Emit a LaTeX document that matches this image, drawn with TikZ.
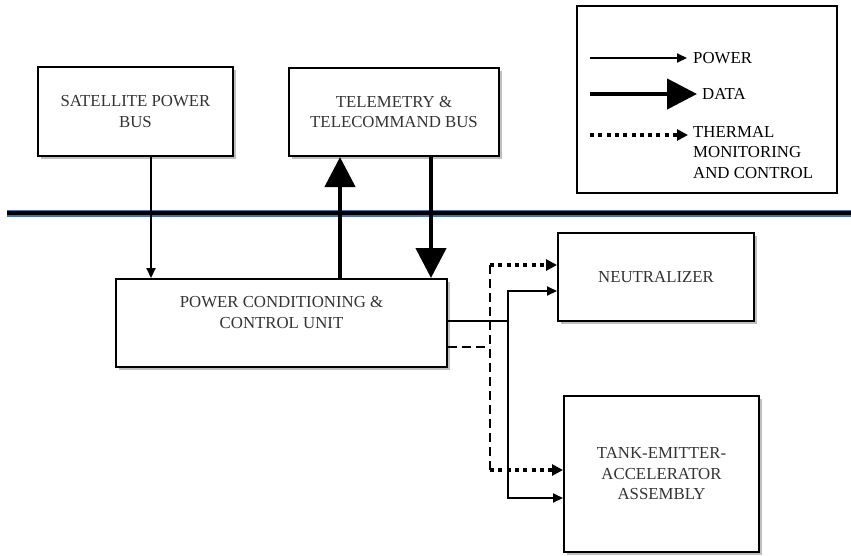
\documentclass[tikz,border=0pt]{standalone}
\usepackage{fontspec}
\setmainfont{Liberation Serif}
\usetikzlibrary{arrows.meta,shadows}
\definecolor{busblue}{RGB}{74,110,168}
\tikzset{every picture/.style={font=\fontsize{16.8}{20.5}\selectfont}}
\tikzset{box/.style={draw,line width=2pt,fill=white,text=black!80,align=center,inner sep=0pt,
    drop shadow={shadow xshift=3pt,shadow yshift=-3pt,opacity=0.25,fill=black}}}
\tikzset{legbox/.style={draw,line width=2pt,fill=white}}
\tikzset{legtext/.style={inner xsep=0pt,align=left}}
\tikzset{power/.style={line width=2pt,-{Triangle[length=10pt,width=9pt]}}}
\tikzset{powerline/.style={line width=2pt}}
\tikzset{data/.style={line width=4.5pt,-{Triangle[length=30pt,width=30pt]}}}
\tikzset{thermdot/.style={line width=4pt,dash pattern=on 4pt off 4.3pt,-{Triangle[length=11pt,width=11pt]}}}
\tikzset{thermdash/.style={line width=2.5pt,dash pattern=on 9pt off 5pt}}

\begin{document}
\begin{tikzpicture}[x=1pt,y=-1pt]
    \useasboundingbox (0,0) rectangle (851,555);
    \draw [line width=7pt,busblue] (7,213) -- (851,213);
    \draw [line width=3.5pt] (7,213) -- (851,213);
    \node [box,minimum width=195pt,minimum height=89pt] (sat) at (135.5,111.5) {SATELLITE POWER\\BUS};
    \node [box,minimum width=210pt,minimum height=88pt] (tele) at (394,112) {TELEMETRY \&\\TELECOMMAND BUS};
    \node [box,minimum width=331pt,minimum height=88pt] (pccu) at (281.5,323) {};
    \node [text=black!80,align=center] (pccutext) at (281.5,312.5) {POWER CONDITIONING \&\\CONTROL UNIT};
    \node [box,minimum width=196pt,minimum height=88pt] (neut) at (656,277) {NEUTRALIZER};
    \node [box,minimum width=195pt,minimum height=156pt] (tea) at (661.5,474) {TANK-EMITTER-\\ACCELERATOR\\ASSEMBLY};
    \coordinate (satx) at (151,0);
    \coordinate (upx) at (340,0);
    \coordinate (downx) at (431,0);
    \draw [power] (sat.south -| satx) -- (pccu.north -| satx);
    \draw [data] (pccu.north -| upx) -- (tele.south -| upx);
    \draw [data] (tele.south -| downx) -- (pccu.north -| downx);
    \coordinate (pj) at (508,321);
    \draw [powerline] (pccu.east |- pj) -- (pj);
    \draw [power] (pj) |- ([yshift=-14pt]neut.west);
    \draw [power] (pj) |- ([yshift=-24pt]tea.west);
    \coordinate (tj) at (490,347);
    \coordinate (neutT) at ([yshift=12pt]neut.west);
    \coordinate (teaT) at ([yshift=4pt]tea.west);
    \draw [thermdash] (pccu.east |- tj) -- (tj);
    \draw [thermdash] (tj |- neutT) -- (tj |- teaT);
    \draw [thermdot] (tj |- neutT) -- (neutT);
    \draw [thermdot] (tj |- teaT) -- (teaT);
    \node [legbox,minimum width=260pt,minimum height=187pt] (leg) at (707,99.5) {};
    \node [legtext,anchor=west] (lpower) at (693,58) {POWER};
    \node [legtext,anchor=west] (ldata) at (702,94) {DATA};
    \node [legtext,anchor=west] (ltherm) at (693,152.5) {THERMAL\\MONITORING\\AND CONTROL};
    \coordinate (lp) at (590,58);
    \coordinate (ld) at (590,94);
    \coordinate (lt) at (590,135);
    \draw [power,shorten >=6pt] (lp) -- (lpower.west);
    \draw [data,shorten >=5pt] (ld) -- (ldata.west);
    \draw [thermdot,shorten >=5pt] (lt) -- (lt -| ltherm.west);
\end{tikzpicture}
\end{document}
